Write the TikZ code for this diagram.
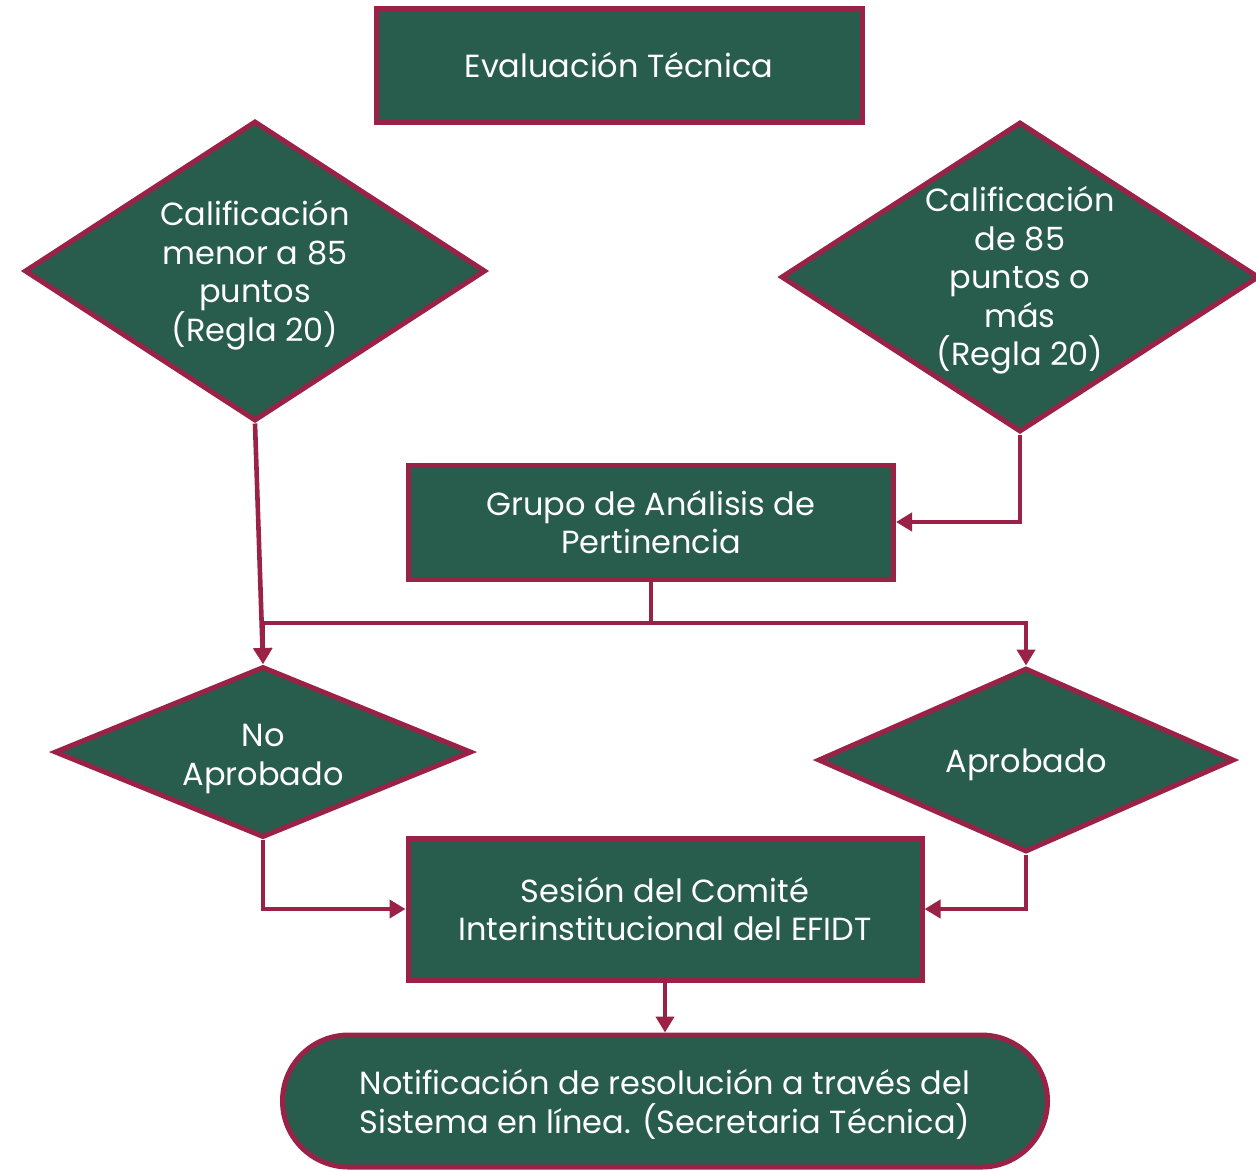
\documentclass[tikz,border=0pt]{standalone}
\usepackage{fontspec}
\setmainfont{Poppins}
\usetikzlibrary{arrows.meta}
\usetikzlibrary{shapes}
\usetikzlibrary{positioning}
\definecolor{verde}{HTML}{285C4D}
\definecolor{guinda}{HTML}{9B2247}
% puntal para bajar el texto
\newcommand{\baja}[1]{\rule{0pt}{#1}}
\tikzset{
	proc/.style={
		draw=guinda,
		fill=verde,
		text=white,
		rectangle,
		align=center,
		line width=2.5pt,
	},
	dec/.style={
		draw=guinda,
		fill=verde,
		text=white,
		diamond,
		align=center,
		inner sep=-2pt,
		line width=2.5pt,
	},
	term/.style={
		draw=guinda,
		fill=verde,
		text=white,
		rectangle,
		rounded corners=33pt,
		align=center,
		line width=2.5pt,
	},
	flow/.style={
		draw=guinda,
		line width=2.3pt,
		-{Triangle[length=8pt,width=9pt]}
	},
}

\begin{document}
\begin{tikzpicture}[
		x=0.5pt, y=-0.5pt,
		font=\fontsize{16}{19.25}\selectfont,
	]
		\useasboundingbox (0,0) rectangle (1256,1169);

		\node[proc, minimum width=243pt, minimum height=57pt] (EV) at (619,65) {Evaluación Técnica};

		\node[dec, minimum width=230.5pt, minimum height=150pt, aspect=1.54] (C1) at (255,271) {\baja{17pt}Calificación\\menor a 85\\puntos\\(Regla 20)};
		\node[dec, minimum width=239pt, minimum height=155pt, aspect=1.54] (C2) at (1020,277) {\baja{16pt}Calificación\\de 85\\puntos o\\más\\(Regla 20)};

		\node[proc, minimum width=242.5pt, minimum height=57pt] (GA) at (651,522) {Grupo de Análisis de\\Pertinencia};

		\coordinate (J) at (651,623);

		\node[dec, minimum width=208.5pt, minimum height=85.5pt, aspect=2.44] (NA) at (263,752) {\baja{18pt}No\\Aprobado};
		\node[dec, minimum width=208pt, minimum height=92pt, aspect=2.26] (AP) at (1026,760) {\baja{17pt}Aprobado};

		\node[proc, minimum width=257pt, minimum height=71pt] (SC) at (665,909) {Sesión del Comité\\Interinstitucional del EFIDT};

		\node[term, minimum width=382.5pt, minimum height=66pt] (NT) at (665,1101) {\baja{16pt}Notificación de resolución a través del\\Sistema en línea. (Secretaria Técnica)};

		\draw[flow] (C2.south) |- (GA.east);
		\draw[flow] (C1.south) -- (NA.north);
		\draw[guinda, line width=2.3pt] (GA.south) -- (J);
		\draw[flow] (J) -| (NA.north);
		\draw[flow] (J) -| (AP.north);
		\draw[flow] (NA.south) |- (SC.west);
		\draw[flow] (AP.south) |- (SC.east);
		\draw[flow] (SC.south) -- (NT.north);

	\end{tikzpicture}
\end{document}
